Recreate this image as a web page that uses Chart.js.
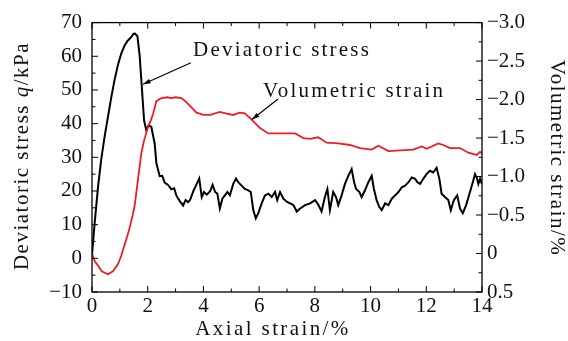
<!DOCTYPE html>
<html>
<head>
<meta charset="utf-8">
<script src="https://cdn.jsdelivr.net/npm/chart.js@4.4.0/dist/chart.umd.min.js"></script>
<style>
html, body { margin: 0; padding: 0; background: #fff; }
#wrap { width: 568px; height: 341px; }
</style>
</head>
<body>
<div id="wrap"><canvas id="triaxial_chart"></canvas></div>
<script>
// deviatoric stress q (kPa) vs axial strain (%)
const qStrain = [0, 0.1, 0.22, 0.33, 0.45, 0.57, 0.69, 0.81, 0.93, 1.05, 1.17, 1.27, 1.35, 1.42, 1.48, 1.53, 1.58, 1.63,
  1.71, 1.79, 1.87, 1.95, 2.03, 2.13, 2.25, 2.31, 2.43, 2.52, 2.61, 2.73, 2.85, 2.95, 3.03, 3.15, 3.27, 3.36, 3.45,
  3.52, 3.64, 3.76, 3.85, 3.94, 4.02, 4.12, 4.24, 4.33, 4.42, 4.50, 4.59, 4.68, 4.77, 4.86, 4.95, 5.07, 5.17, 5.25,
  5.37, 5.49, 5.61, 5.70, 5.79, 5.88, 5.97, 6.09, 6.21, 6.33, 6.45, 6.57, 6.65, 6.75, 6.87, 6.99, 7.11, 7.23, 7.35,
  7.47, 7.65, 7.83, 8.01, 8.13, 8.24, 8.36, 8.45, 8.54, 8.66, 8.76, 8.84, 8.96, 9.08, 9.20, 9.32, 9.41, 9.48, 9.60,
  9.68, 9.80, 9.92, 10.04, 10.12, 10.22, 10.31, 10.40, 10.52, 10.64, 10.76, 10.88, 11.00, 11.12, 11.24, 11.36,
  11.48, 11.60, 11.68, 11.78, 11.89, 12.01, 12.13, 12.25, 12.37, 12.47, 12.55, 12.67, 12.79, 12.88, 12.99, 13.11,
  13.21, 13.31, 13.43, 13.55, 13.67, 13.75, 13.81, 13.87, 13.93, 14.0];
const qValues = [1.1, 10.9, 21.5, 29.3, 36, 41.9, 47.7, 53, 57.4, 60.8, 63.2, 64.5, 65.2, 65.8, 66.6, 66.8, 66.4, 66.0,
  60.3, 50.6, 40.9, 38, 39.5, 39, 34.1, 28.3, 24.4, 24.5, 22.5, 21.8, 20.5, 20.8, 18.6, 17.0, 15.7, 17.3, 16.7,
  17.3, 20.0, 22.1, 23.7, 18.2, 19.7, 18.9, 19.9, 21.8, 19.7, 19.2, 14.8, 17.7, 18.7, 19.7, 18.7, 22.1, 23.7, 22.6,
  21.6, 20.6, 20.2, 19.7, 14.3, 11.9, 13.4, 16.3, 18.7, 19.2, 18.2, 19.7, 17.3, 19.7, 17.7, 16.8, 16.3, 15.8, 13.9,
  14.8, 15.8, 16.3, 17.3, 15.8, 13.9, 18.2, 20.6, 14.3, 19.7, 18.2, 15.8, 18.7, 22.1, 24.5, 26.5, 22.6, 20.6, 19.7,
  18.2, 20.2, 22.6, 24.5, 20.6, 17.2, 15.3, 14.3, 16.3, 15.8, 17.7, 18.7, 19.7, 21.1, 21.6, 22.6,
  24.0, 23.6, 22.6, 22.1, 23.6, 25.0, 26.0, 25.5, 26.9, 23.6, 19.2, 18.2, 17.3, 14.3, 17.3, 18.7,
  14.8, 13.4, 15.8, 19.2, 22.6, 25.0, 24.0, 22.1, 23.6, 22.0];

// volumetric strain (%) vs axial strain (%)
const vStrain = [0, 0.1, 0.22, 0.35, 0.57, 0.75, 0.93, 1.05, 1.17, 1.27, 1.35, 1.45, 1.53, 1.65, 1.77, 1.87, 2.01, 2.1,
  2.19, 2.31, 2.49, 2.7, 2.85, 3.0, 3.21, 3.35, 3.51, 3.75, 4.0, 4.24, 4.59, 4.8, 5.07, 5.3, 5.49, 5.73, 6.03, 6.33,
  6.87, 7.29, 7.59, 7.83, 8.12, 8.42, 8.84, 9.26, 9.62, 10.04, 10.28, 10.64, 11.06, 11.53, 11.84, 12.01, 12.43,
  12.61, 12.85, 13.21, 13.51, 13.81, 13.93, 14.0];
const vValues = [0, 0.1, 0.16, 0.23, 0.27, 0.23, 0.14, 0.03, -0.115, -0.23, -0.33, -0.48, -0.62, -0.96, -1.30, -1.47,
  -1.64, -1.72, -1.81, -1.98, -2.02, -2.03, -2.02, -2.03, -2.02, -1.98, -1.92, -1.83, -1.80, -1.80, -1.84, -1.82,
  -1.80, -1.83, -1.82, -1.74, -1.63, -1.56, -1.56, -1.56, -1.50, -1.49, -1.51, -1.44, -1.43, -1.41, -1.37, -1.35,
  -1.40, -1.33, -1.34, -1.35, -1.39, -1.36, -1.43, -1.41, -1.37, -1.37, -1.31, -1.28, -1.32, -1.30];

const xTickStep = 2, xMinorStep = 1;
const qTickStep = 10, qMinorStep = 5;
const vTickStep = 0.5, vMinorStep = 0.25;

const serif = "'Liberation Serif', 'Times New Roman', serif";
const tickFont = { family: serif, size: 21 };

function minusLabel(v, digits) {
  const s = Math.abs(v) < 1e-9 ? '0' : Math.abs(v).toFixed(digits);
  return v < -1e-9 ? '\u2212' + s : s;
}

const boxPlugin = {
  id: 'box',
  afterDraw(chart) {
    const { ctx, chartArea: a, scales } = chart;
    ctx.save();
    ctx.strokeStyle = '#000';
    ctx.lineWidth = 1.3;
    ctx.strokeRect(a.left, a.top, a.right - a.left, a.bottom - a.top);

    ctx.lineWidth = 1;
    ctx.beginPath();
    const sx = scales.x;
    for (let i = 0; sx.min + i * xMinorStep <= sx.max + 1e-9; i++) {
      const px = sx.getPixelForValue(sx.min + i * xMinorStep);
      const len = (i % (xTickStep / xMinorStep) === 0) ? 6 : 3.5;
      ctx.moveTo(px, a.bottom); ctx.lineTo(px, a.bottom - len);
      ctx.moveTo(px, a.top); ctx.lineTo(px, a.top + len);
    }
    const sq = scales.y;
    for (let i = 0; sq.min + i * qMinorStep <= sq.max + 1e-9; i++) {
      const py = sq.getPixelForValue(sq.min + i * qMinorStep);
      const len = (i % (qTickStep / qMinorStep) === 0) ? 6 : 3.5;
      ctx.moveTo(a.left, py); ctx.lineTo(a.left + len, py);
    }
    const sv = scales.y2;
    for (let i = 0; sv.min + i * vMinorStep <= sv.max + 1e-9; i++) {
      const py = sv.getPixelForValue(sv.min + i * vMinorStep);
      const len = (i % (vTickStep / vMinorStep) === 0) ? 6 : 3.5;
      ctx.moveTo(a.right, py); ctx.lineTo(a.right - len, py);
    }
    ctx.stroke();

    // axis titles
    ctx.fillStyle = '#111';
    ctx.textBaseline = 'middle';
    ctx.letterSpacing = '2.4px';
    ctx.font = '21px ' + serif;
    ctx.textAlign = 'center';
    ctx.fillText('Axial strain/%', 273, 329);

    ctx.letterSpacing = '1.5px';
    ctx.save();
    ctx.translate(22, 156);
    ctx.rotate(-Math.PI / 2);
    const parts = [['Deviatoric stress ', 'normal'], ['q', 'italic'], ['/kPa', 'normal']];
    let total = 0;
    parts.forEach(p => { ctx.font = p[1] + ' 21px ' + serif; total += ctx.measureText(p[0]).width; });
    let cx = -total / 2;
    ctx.textAlign = 'left';
    parts.forEach(p => {
      ctx.font = p[1] + ' 21px ' + serif;
      ctx.fillText(p[0], cx, 0);
      cx += ctx.measureText(p[0]).width;
    });
    ctx.restore();

    ctx.save();
    ctx.translate(557, 158);
    ctx.rotate(Math.PI / 2);
    ctx.font = '21px ' + serif;
    ctx.textAlign = 'center';
    ctx.fillText('Volumetric strain/%', 0, 0);
    ctx.restore();

    // curve labels with arrows, placed in data coordinates
    ctx.letterSpacing = '2.2px';
    const notes = [
      { text: 'Deviatoric stress', at: [3.63, 61.6], from: [3.55, 58.1], to: [1.83, 51.7] },
      { text: 'Volumetric strain', at: [6.14, 49.6], from: [6.68, 47.3], to: [5.74, 41.2] }
    ];
    notes.forEach(n => {
      ctx.font = '21px ' + serif;
      ctx.textAlign = 'left';
      ctx.fillText(n.text, sx.getPixelForValue(n.at[0]), sq.getPixelForValue(n.at[1]));
      const x1 = sx.getPixelForValue(n.from[0]), y1 = sq.getPixelForValue(n.from[1]);
      const x2 = sx.getPixelForValue(n.to[0]), y2 = sq.getPixelForValue(n.to[1]);
      ctx.beginPath();
      ctx.moveTo(x1, y1); ctx.lineTo(x2, y2);
      ctx.lineWidth = 1.2;
      ctx.stroke();
      const ang = Math.atan2(y2 - y1, x2 - x1);
      ctx.beginPath();
      ctx.moveTo(x2, y2);
      ctx.lineTo(x2 - 8 * Math.cos(ang - 0.3), y2 - 8 * Math.sin(ang - 0.3));
      ctx.lineTo(x2 - 8 * Math.cos(ang + 0.3), y2 - 8 * Math.sin(ang + 0.3));
      ctx.closePath();
      ctx.fillStyle = '#000';
      ctx.fill();
      ctx.fillStyle = '#111';
    });
    ctx.restore();
  }
};

const ctx = document.getElementById('triaxial_chart').getContext('2d');
const chart = new Chart(ctx, {
  type: 'line',
  data: {
    datasets: [{
      label: 'Volumetric strain',
      data: vStrain.map((x, i) => ({ x: x, y: vValues[i] })),
      yAxisID: 'y2',
      borderColor: '#ee1c24',
      borderWidth: 1.8
    }, {
      label: 'Deviatoric stress',
      data: qStrain.map((x, i) => ({ x: x, y: qValues[i] })),
      yAxisID: 'y',
      borderColor: '#000',
      borderWidth: 2
    }]
  },
  options: {
    responsive: true,
    maintainAspectRatio: false,
    animation: false,
    layout: { padding: { top: 17 } },
    elements: { point: { radius: 0 }, line: { tension: 0 } },
    plugins: { legend: { display: false }, tooltip: { enabled: false } },
    scales: {
      x: {
        type: 'linear', min: 0, max: 14,
        grid: { display: false, drawTicks: false },
        border: { display: false },
        ticks: { stepSize: xTickStep, font: tickFont, color: '#111', padding: 2, maxRotation: 0 },
        afterFit: s => { s.height = 49; }
      },
      y: {
        position: 'left', min: -10, max: 70,
        grid: { display: false, drawTicks: false },
        border: { display: false },
        ticks: { stepSize: qTickStep, font: tickFont, color: '#111', padding: 10, callback: v => minusLabel(v, 0) },
        afterFit: s => { s.width = 92; }
      },
      y2: {
        position: 'right', min: -3, max: 0.5, reverse: true,
        grid: { display: false, drawTicks: false },
        border: { display: false },
        ticks: { stepSize: vTickStep, font: tickFont, color: '#111', padding: 5,
          callback: v => minusLabel(v, Math.abs(v) < 1e-9 ? 0 : 1) },
        afterFit: s => { s.width = 86; }
      }
    }
  },
  plugins: [boxPlugin]
});
</script>
</body>
</html>
